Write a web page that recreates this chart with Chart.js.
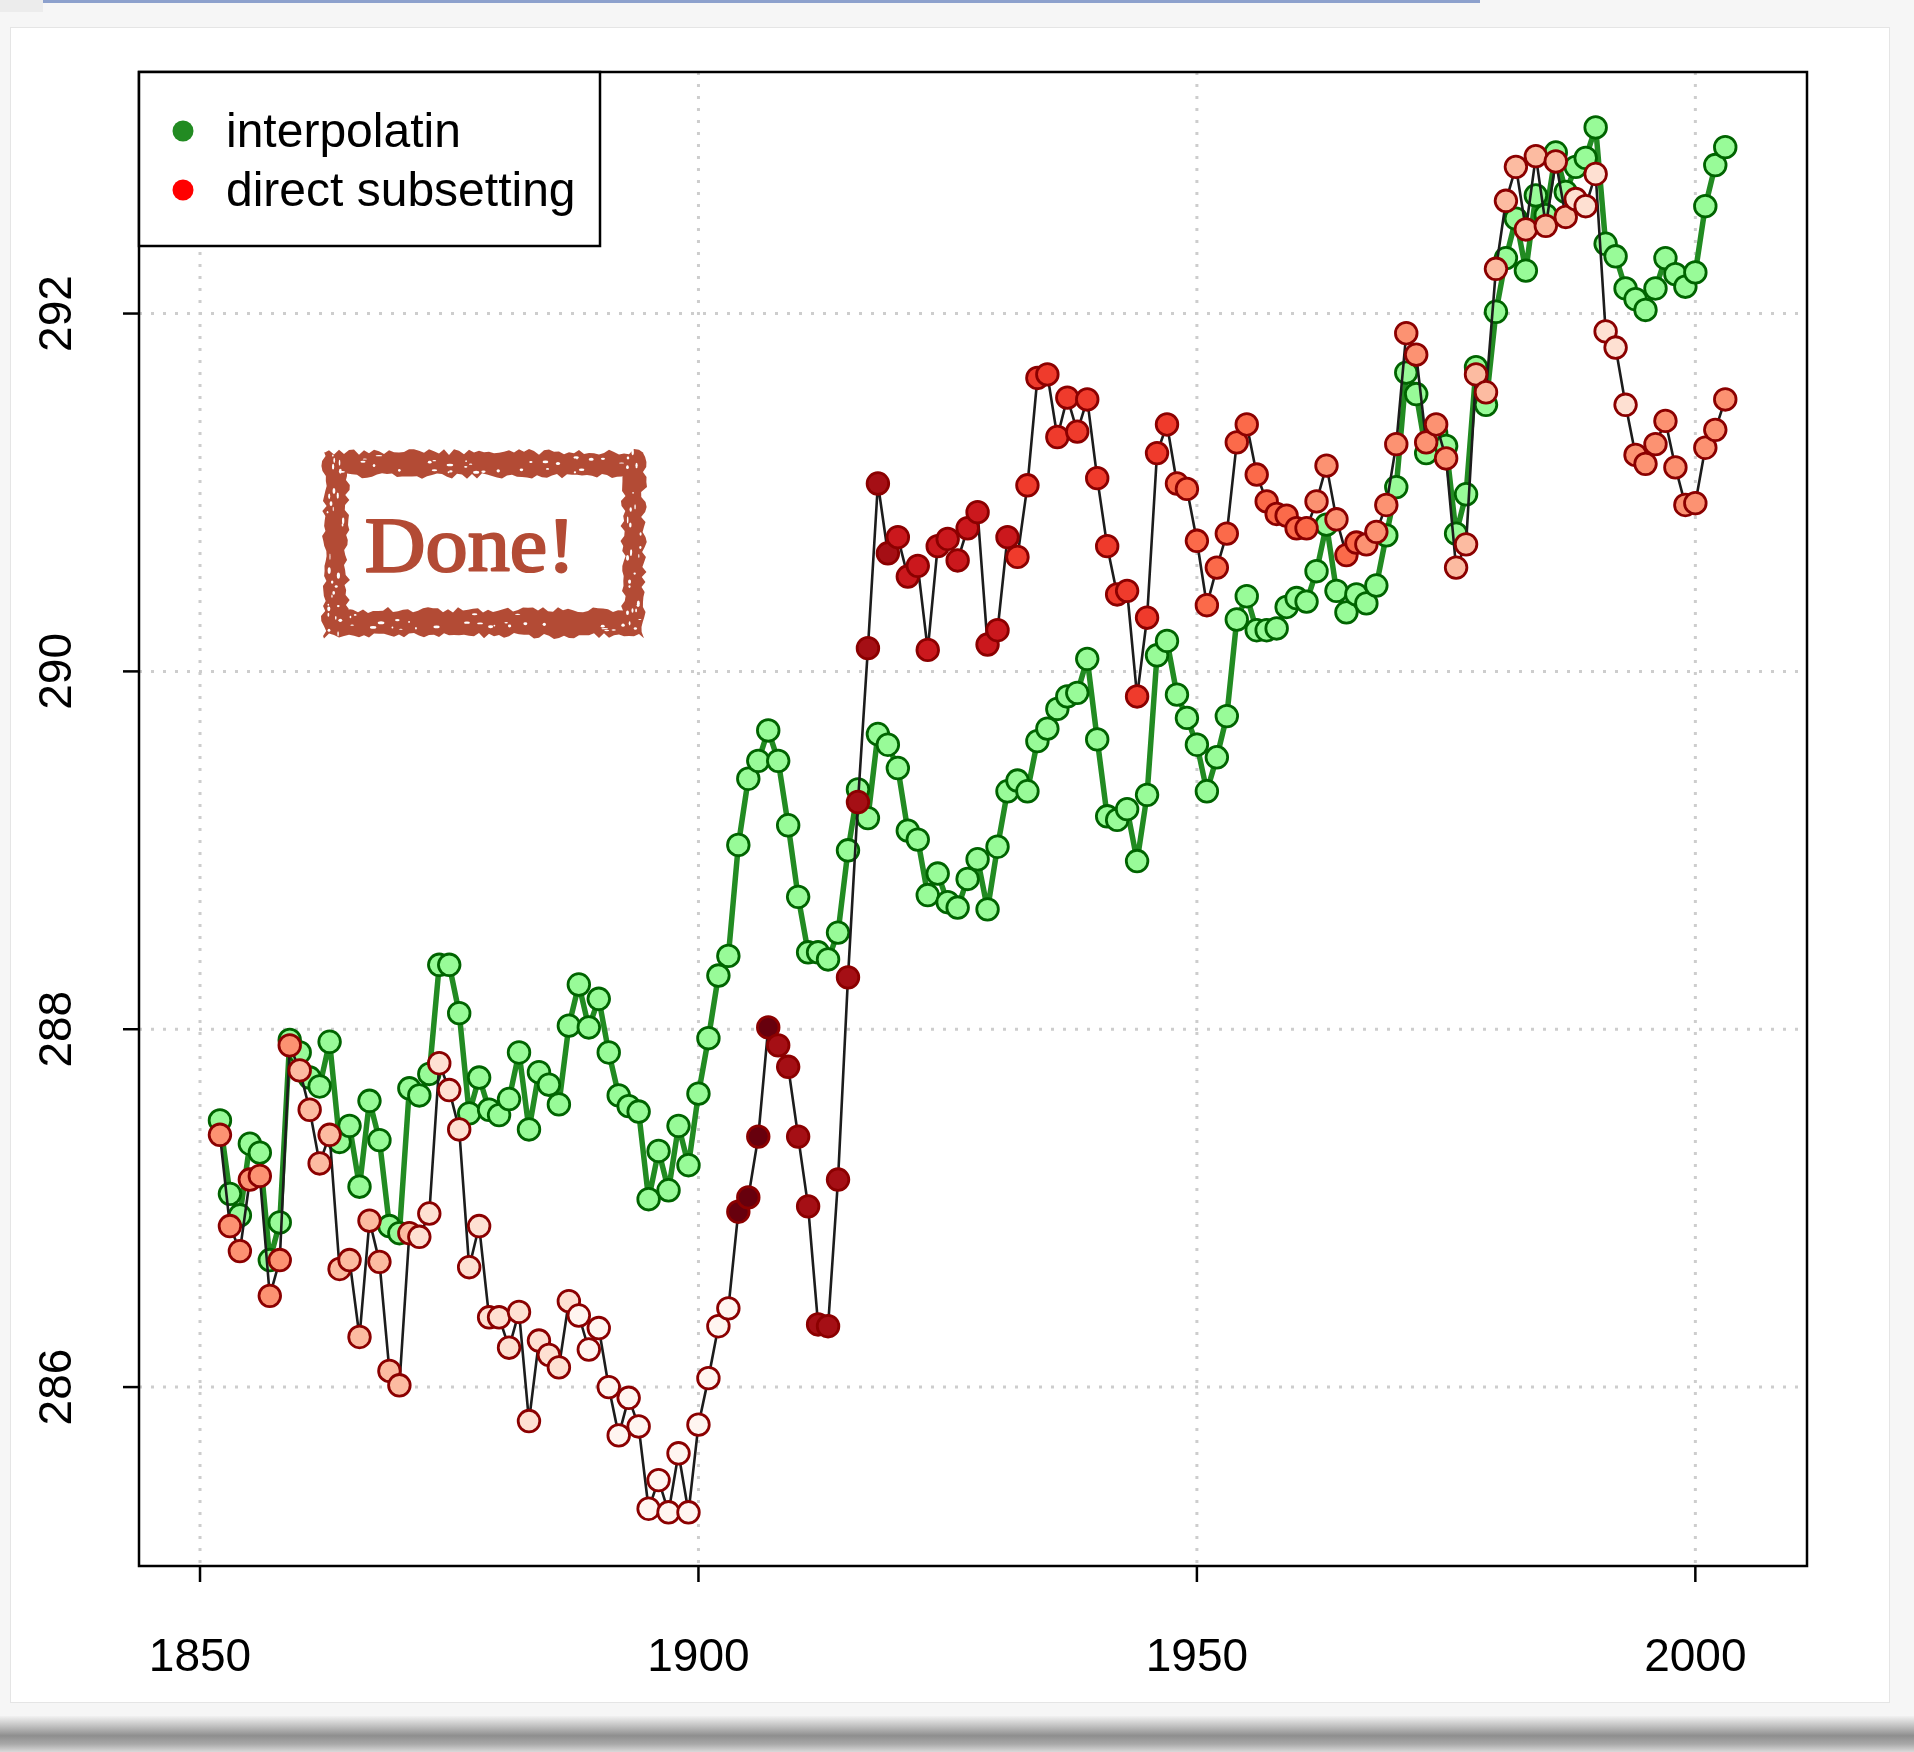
<!DOCTYPE html>
<html>
<head>
<meta charset="utf-8">
<title>interpolatin vs direct subsetting</title>
<script src="https://cdn.jsdelivr.net/npm/chart.js@4.4.1/dist/chart.umd.min.js"></script>
<style>
  html, body { margin: 0; padding: 0; }
  body { width: 1914px; height: 1752px; background: #f6f6f6; position: relative; overflow: hidden; }
  #topbar { position: absolute; left: 43px; top: 0; width: 1437px; height: 3px; background: #8da1cd; }
  #topcorner { position: absolute; left: 0; top: 0; width: 43px; height: 12px; background: #ececec; }
  #card { position: absolute; left: 10px; top: 27px; width: 1878px; height: 1674px; background: #ffffff; border: 1px solid #e5e5e5; }
  #shadow { position: absolute; left: 0; top: 1716px; width: 1914px; height: 36px;
    background: linear-gradient(to bottom, #f2f2f2 0%, #bdbdbd 30%, #8e8e8e 55%, #a9a9a9 78%, #d9d9d9 100%); }
  #c { position: absolute; left: 0; top: 0; }
</style>
</head>
<body>
<div id="topcorner"></div>
<div id="topbar"></div>
<div id="card"></div>
<div id="shadow"></div>
<canvas id="c" width="1914" height="1752"></canvas>
<script>
// Years of the annual series
const years = [
  1852, 1853, 1854, 1855, 1856, 1857, 1858, 1859,
  1860, 1861, 1862, 1863, 1864, 1865, 1866, 1867, 1868, 1869,
  1870, 1871, 1872, 1873, 1874, 1875, 1876, 1877, 1878, 1879,
  1880, 1881, 1882, 1883, 1884, 1885, 1886, 1887, 1888, 1889,
  1890, 1891, 1892, 1893, 1894, 1895, 1896, 1897, 1898, 1899,
  1900, 1901, 1902, 1903, 1904, 1905, 1906, 1907, 1908, 1909,
  1910, 1911, 1912, 1913, 1914, 1915, 1916, 1917, 1918, 1919,
  1920, 1921, 1922, 1923, 1924, 1925, 1926, 1927, 1928, 1929,
  1930, 1931, 1932, 1933, 1934, 1935, 1936, 1937, 1938, 1939,
  1940, 1941, 1942, 1943, 1944, 1945, 1946, 1947, 1948, 1949,
  1950, 1951, 1952, 1953, 1954, 1955, 1956, 1957, 1958, 1959,
  1960, 1961, 1962, 1963, 1964, 1965, 1966, 1967, 1968, 1969,
  1970, 1971, 1972, 1973, 1974, 1975, 1976, 1977, 1978, 1979,
  1980, 1981, 1982, 1983, 1984, 1985, 1986, 1987, 1988, 1989,
  1990, 1991, 1992, 1993, 1994, 1995, 1996, 1997, 1998, 1999,
  2000, 2001, 2002, 2003
];

// Mean temperature (K) from the interpolated field
const interpolatin = [
  287.49, 287.08, 286.96, 287.36, 287.31, 286.71, 286.92, 287.94,
  287.87, 287.73, 287.68, 287.93, 287.37, 287.46, 287.12, 287.60, 287.38, 286.90,
  286.86, 287.67, 287.63, 287.75, 288.36, 288.36, 288.09, 287.53, 287.73, 287.55,
  287.52, 287.61, 287.87, 287.44, 287.76, 287.69, 287.58, 288.02, 288.25, 288.01,
  288.17, 287.87, 287.63, 287.57, 287.54, 287.05, 287.32, 287.10, 287.46, 287.24,
  287.64, 287.95, 288.30, 288.41, 289.03, 289.40, 289.50, 289.67, 289.50, 289.14,
  288.74, 288.43, 288.43, 288.39, 288.54, 289.00, 289.34, 289.18, 289.65, 289.59,
  289.46, 289.11, 289.06, 288.75, 288.87, 288.71, 288.68, 288.84, 288.95, 288.67,
  289.02, 289.33, 289.39, 289.33, 289.61, 289.68, 289.79, 289.86, 289.88, 290.07,
  289.62, 289.19, 289.17, 289.23, 288.94, 289.31, 290.09, 290.17, 289.87, 289.74,
  289.59, 289.33, 289.52, 289.75, 290.29, 290.42, 290.23, 290.23, 290.24, 290.36,
  290.41, 290.39, 290.56, 290.82, 290.45, 290.33, 290.43, 290.38, 290.48, 290.76,
  291.03, 291.67, 291.55, 291.22, 291.33, 291.26, 290.77, 290.99, 291.70, 291.49,
  292.01, 292.31, 292.53, 292.24, 292.66, 292.55, 292.90, 292.68, 292.82, 292.87,
  293.04, 292.39, 292.32, 292.14, 292.08, 292.02, 292.14, 292.31, 292.22, 292.15,
  292.23, 292.60, 292.83, 292.93
];

// Mean temperature (K) from the directly subsetted stations
const directSubsetting = [
  287.41, 286.90, 286.76, 287.16, 287.18, 286.51, 286.71, 287.91,
  287.77, 287.55, 287.25, 287.41, 286.66, 286.71, 286.28, 286.93, 286.70, 286.09,
  286.01, 286.86, 286.84, 286.97, 287.81, 287.66, 287.44, 286.67, 286.90, 286.39,
  286.39, 286.22, 286.42, 285.81, 286.26, 286.18, 286.11, 286.48, 286.40, 286.21,
  286.33, 286.00, 285.73, 285.94, 285.78, 285.32, 285.48, 285.30, 285.63, 285.30,
  285.79, 286.05, 286.34, 286.44, 286.98, 287.06, 287.40, 288.01, 287.91, 287.79,
  287.40, 287.01, 286.35, 286.34, 287.16, 288.29, 289.27, 290.13, 291.05, 290.66,
  290.75, 290.53, 290.59, 290.12, 290.70, 290.74, 290.62, 290.80, 290.89, 290.15,
  290.23, 290.75, 290.64, 291.04, 291.64, 291.66, 291.31, 291.53, 291.34, 291.52,
  291.08, 290.70, 290.43, 290.45, 289.86, 290.30, 291.22, 291.38, 291.05, 291.02,
  290.73, 290.37, 290.58, 290.77, 291.28, 291.38, 291.10, 290.95, 290.88, 290.87,
  290.80, 290.80, 290.95, 291.15, 290.85, 290.65, 290.72, 290.71, 290.78, 290.93,
  291.27, 291.89, 291.77, 291.28, 291.38, 291.19, 290.58, 290.71, 291.66, 291.56,
  292.25, 292.63, 292.82, 292.47, 292.88, 292.49, 292.85, 292.54, 292.64, 292.60,
  292.78, 291.90, 291.81, 291.49, 291.21, 291.16, 291.27, 291.40, 291.14, 290.93,
  290.94, 291.25, 291.35, 291.52
];

// Station coverage class (1 = sparse ... 9 = dense) for each subsetted year
const coverage = [
  4, 4, 4, 4, 4, 4, 4, 4,
  3, 3, 3, 3, 3, 3, 3, 3, 3, 3,
  3, 3, 2, 2, 2, 2, 2, 2, 2, 2,
  2, 2, 2, 2, 2, 2, 2, 2, 1, 1,
  1, 1, 1, 1, 1, 1, 1, 1, 1, 1,
  1, 1, 1, 1, 9, 9, 9, 9, 8, 8,
  8, 8, 8, 8, 8, 8, 8, 8, 8, 8,
  7, 7, 7, 7, 7, 7, 7, 7, 7, 7,
  7, 7, 6, 6, 6, 6, 6, 6, 6, 6,
  6, 6, 6, 6, 6, 6, 6, 6, 5, 5,
  5, 5, 5, 5, 5, 5, 5, 5, 5, 5,
  5, 5, 4, 4, 4, 5, 5, 4, 4, 4,
  4, 4, 4, 4, 4, 4, 3, 3, 3, 3,
  3, 3, 3, 3, 3, 3, 3, 3, 2, 2,
  2, 2, 2, 2, 4, 4, 4, 4, 4, 4,
  4, 4, 4, 4
];

const xTicks = [1850, 1900, 1950, 2000];
const yTicks = [286, 288, 290, 292];
const legendLabels = ['interpolatin', 'direct subsetting'];
const stampText = 'Done!';

// Sequential reds used to shade the subsetted points by coverage class
const redsPalette = ['#fff5f0', '#fee0d2', '#fcbba1', '#fc9272', '#fb6a4a', '#ef3b2c', '#cb181d', '#a50f15', '#67000d'];

const greenPts = years.map((yr, i) => ({ x: yr, y: interpolatin[i] }));
const redPts = years.map((yr, i) => ({ x: yr, y: directSubsetting[i] }));
const redFills = coverage.map(c => redsPalette[c - 1]);

const SANS = '"Liberation Sans", Arial, Helvetica, sans-serif';

function line(ctx, x1, y1, x2, y2) {
  ctx.beginPath(); ctx.moveTo(x1, y1); ctx.lineTo(x2, y2); ctx.stroke();
}

// deterministic jitter for the rough stamp edge
function hash(i) {
  const s = Math.sin(i * 127.1 + 311.7) * 43758.5453;
  return s - Math.floor(s);
}

function roughRect(ctx, x, y, w, h, amp, seed) {
  let k = seed;
  const j = () => (hash(k++) - 0.5) * 2 * amp;
  const st = 5;
  ctx.moveTo(x, y);
  for (let i = 0; i <= w; i += st) ctx.lineTo(x + i, y + j());
  for (let i = 0; i <= h; i += st) ctx.lineTo(x + w + j(), y + i);
  for (let i = w; i >= 0; i -= st) ctx.lineTo(x + i, y + h + j());
  for (let i = h; i >= 0; i -= st) ctx.lineTo(x + j(), y + i);
  ctx.closePath();
}

function drawStamp(ctx) {
  const ox = 324, oy = 452, ow = 320, oh = 184;
  const ix = 347, iy = 476, iw = 276, ih = 134;
  const col = '#b34b35';
  ctx.save();
  ctx.fillStyle = col;
  ctx.beginPath();
  roughRect(ctx, ox, oy, ow, oh, 3, 11);
  roughRect(ctx, ix, iy, iw, ih, 3, 977);
  ctx.fill('evenodd');
  // worn speckles in the ink band
  ctx.fillStyle = '#ffffff';
  for (let n = 0; n < 110; n++) {
    const side = Math.floor(hash(n * 3 + 5) * 4);
    const t = hash(n * 7 + 1);
    const d = 0.15 + 0.7 * hash(n * 13 + 2);
    let px, py;
    if (side === 0) { px = ox + t * ow; py = oy + d * (iy - oy); }
    else if (side === 1) { px = ox + t * ow; py = iy + ih + d * (oy + oh - iy - ih); }
    else if (side === 2) { px = ox + d * (ix - ox); py = oy + t * oh; }
    else { px = ix + iw + d * (ox + ow - ix - iw); py = oy + t * oh; }
    const r1 = 0.8 + hash(n * 17 + 3) * 2.6;
    const r2 = 0.5 + hash(n * 19 + 4) * 1.1;
    ctx.beginPath();
    ctx.ellipse(px, py, side < 2 ? r1 : r2, side < 2 ? r2 : r1, 0, 0, Math.PI * 2);
    ctx.fill();
  }
  // stamp lettering, slightly widened and emboldened
  ctx.translate(470, 571);
  ctx.scale(1.08, 1);
  ctx.fillStyle = col;
  ctx.strokeStyle = col;
  ctx.lineWidth = 2.2;
  ctx.lineJoin = 'round';
  ctx.font = '78px "Liberation Serif", "Times New Roman", serif';
  ctx.textAlign = 'center';
  ctx.textBaseline = 'alphabetic';
  ctx.fillText(stampText, 0, 0);
  ctx.strokeText(stampText, 0, 0);
  ctx.restore();
}

const framePlugin = {
  id: 'framePlugin',
  beforeDatasetsDraw(chart) {
    const { ctx, chartArea: a, scales: { x, y } } = chart;
    ctx.save();
    ctx.strokeStyle = '#cdcdcd';
    ctx.lineWidth = 3;
    ctx.setLineDash([3, 9]);
    xTicks.forEach(v => { const px = x.getPixelForValue(v); line(ctx, px, a.top, px, a.bottom); });
    yTicks.forEach(v => { const py = y.getPixelForValue(v); line(ctx, a.left, py, a.right, py); });
    ctx.restore();
  },
  afterDatasetsDraw(chart) {
    const { ctx, chartArea: a, scales: { x, y } } = chart;
    ctx.save();
    // plot box
    ctx.strokeStyle = '#000';
    ctx.lineWidth = 2.5;
    ctx.strokeRect(a.left, a.top, a.right - a.left, a.bottom - a.top);

    // tick marks and labels
    ctx.fillStyle = '#000';
    ctx.font = '46px ' + SANS;
    ctx.lineWidth = 2.5;
    ctx.textAlign = 'center';
    ctx.textBaseline = 'alphabetic';
    xTicks.forEach(v => {
      const px = x.getPixelForValue(v);
      line(ctx, px, a.bottom, px, a.bottom + 16);
      ctx.fillText(String(v), px, 1671);
    });
    yTicks.forEach(v => {
      const py = y.getPixelForValue(v);
      line(ctx, a.left, py, a.left - 16, py);
      ctx.save();
      ctx.translate(71, py);
      ctx.rotate(-Math.PI / 2);
      ctx.fillText(String(v), 0, 0);
      ctx.restore();
    });

    // legend
    const lx = a.left, ly = a.top, lw = 461, lh = 174;
    ctx.fillStyle = '#fff';
    ctx.fillRect(lx, ly, lw, lh);
    ctx.strokeStyle = '#000';
    ctx.lineWidth = 2.5;
    ctx.strokeRect(lx, ly, lw, lh);
    const dotColors = ['#228b22', '#ff0000'];
    const rowY = [133, 192];
    ctx.font = '48px ' + SANS;
    ctx.textAlign = 'left';
    ctx.textBaseline = 'middle';
    legendLabels.forEach((lab, i) => {
      ctx.fillStyle = dotColors[i];
      ctx.beginPath();
      ctx.arc(183, rowY[i] - 2, 10.5, 0, Math.PI * 2);
      ctx.fill();
      ctx.fillStyle = '#000';
      ctx.fillText(lab, 226, rowY[i] + 1);
    });
    ctx.restore();
  },
  afterDraw(chart) {
    drawStamp(chart.ctx);
  }
};

new Chart(document.getElementById('c'), {
  type: 'line',
  data: {
    datasets: [
      {
        label: legendLabels[1],
        data: redPts,
        order: 0,
        borderColor: '#1c1c1c',
        borderWidth: 2.6,
        pointRadius: 10.8,
        pointBorderWidth: 2.8,
        pointBackgroundColor: redFills,
        pointBorderColor: '#8b0000',
        tension: 0
      },
      {
        label: legendLabels[0],
        data: greenPts,
        order: 1,
        borderColor: '#228b22',
        borderWidth: 5.5,
        pointRadius: 10.8,
        pointBorderWidth: 2.8,
        pointBackgroundColor: '#98fb98',
        pointBorderColor: '#006400',
        tension: 0
      }
    ]
  },
  options: {
    responsive: false,
    animation: false,
    devicePixelRatio: 1,
    layout: { padding: { left: 139, top: 72, right: 107, bottom: 186 } },
    scales: {
      x: { type: 'linear', min: 1843.88, max: 2011.2, display: false },
      y: { type: 'linear', min: 285.0, max: 293.35, display: false }
    },
    plugins: {
      legend: { display: false },
      tooltip: { enabled: false }
    },
    elements: { line: { borderJoinStyle: 'round', borderCapStyle: 'round' } }
  },
  plugins: [framePlugin]
});
</script>
</body>
</html>
